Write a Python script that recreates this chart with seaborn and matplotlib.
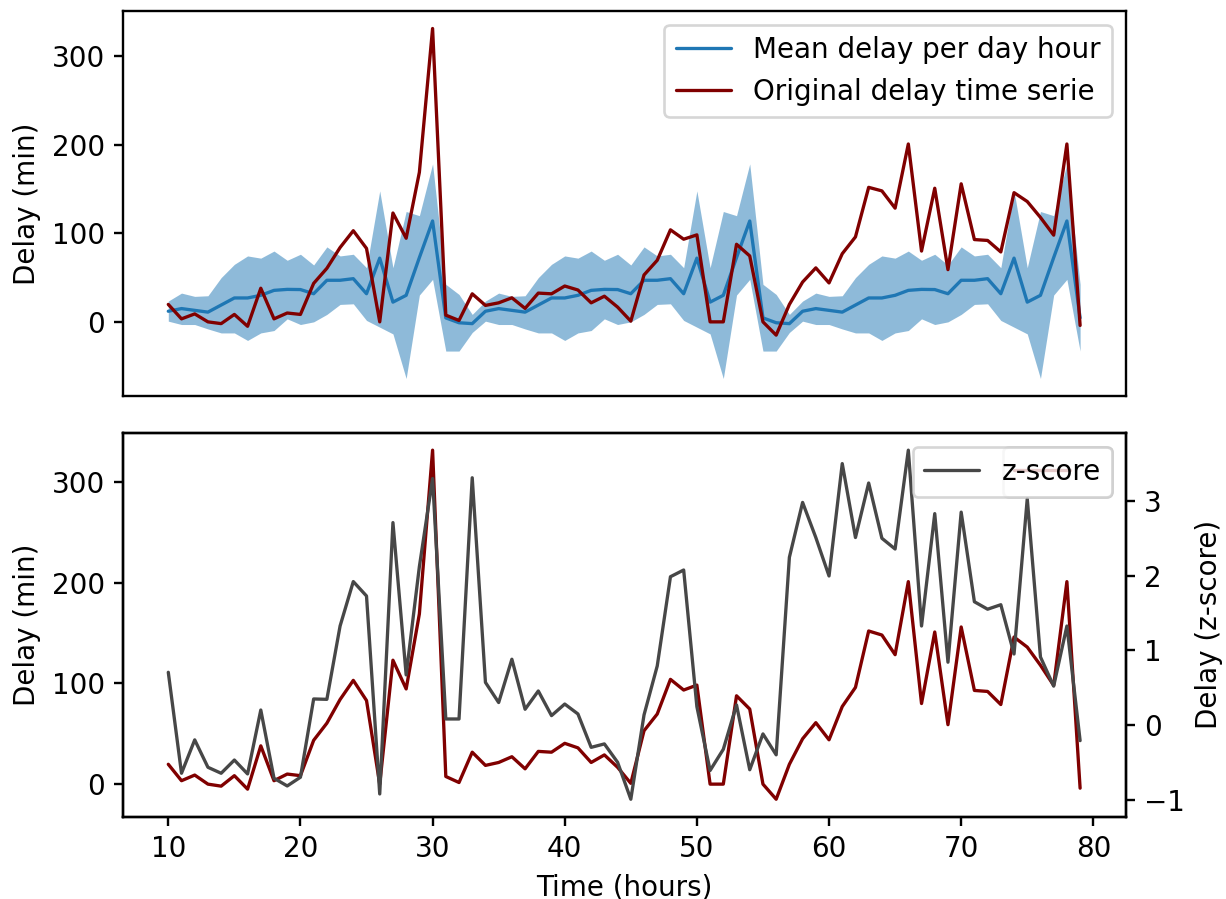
import numpy as np
import pandas as pd
import seaborn as sns
import matplotlib
matplotlib.use("Agg")
import matplotlib.pyplot as plt

hours = list(range(10, 80))

mean_delay = [12, 15, 13, 11, 19, 27, 27, 30, 35.6, 36.7, 36.5, 31.8, 47, 47, 48.8, 31.8, 72, 22.3, 30, 72.6, 114, 4.5, -1, -2,
              12, 15, 13, 11, 19, 27, 27, 30, 35.6, 36.7, 36.5, 31.8, 47, 47, 48.8, 31.8, 72, 22.3, 30, 72.6, 114, 4.5, -1, -2,
              12, 15, 13, 11, 19, 27, 27, 30, 35.6, 36.7, 36.5, 31.8, 47, 47, 48.8, 31.8, 72, 22.3, 30, 72.6, 114, 4.5]

band_upper = [23.5, 32.5, 28.8, 29.5, 50, 65, 74.5, 72, 80, 69.6, 76.4, 64.3, 84.7, 74.5, 76.4, 61.2, 148, 61.2, 124.7, 120, 178.5, 42.4, 31, 8.4,
              23.5, 32.5, 28.8, 29.5, 50, 65, 74.5, 72, 80, 69.6, 76.4, 64.3, 84.7, 74.5, 76.4, 61.2, 148, 61.2, 124.7, 120, 178.5, 42.4, 31, 8.4,
              23.5, 32.5, 28.8, 29.5, 50, 65, 74.5, 72, 80, 69.6, 76.4, 64.3, 84.7, 74.5, 76.4, 61.2, 148, 61.2, 124.7, 120, 178.5, 42.4]

band_lower = [0.8, -3, -3, -8, -12.5, -12.5, -21, -12.5, -9.8, 3.4, -3, 0, 8.4, 19.7, 20.4, 1.6, -6, -13.6, -64, 30.3, 48, -33, -33, -12,
              0.8, -3, -3, -8, -12.5, -12.5, -21, -12.5, -9.8, 3.4, -3, 0, 8.4, 19.7, 20.4, 1.6, -6, -13.6, -64, 30.3, 48, -33, -33, -12,
              0.8, -3, -3, -8, -12.5, -12.5, -21, -12.5, -9.8, 3.4, -3, 0, 8.4, 19.7, 20.4, 1.6, -6, -13.6, -64, 30.3, 48, -33]

original_delay = [19.7, 3.4, 9, 0, -2, 8.4, -5, 38, 3.4, 10,
                  8.4, 43.5, 60.5, 84, 103, 83, 0, 123, 94.5, 169,
                  331.5, 7.6, 1.6, 31.7, 18.6, 21.5, 27.2, 15.2, 32.5, 31.7,
                  40.5, 36, 21.5, 29, 16.7, 0.8, 53, 69.6, 104, 93.4,
                  98.3, 0, 0, 87.7, 74.5, 0, -15, 19.7, 45, 61,
                  44, 77, 96, 152, 148, 128.5, 201, 80, 151, 59,
                  156, 93, 92, 79, 146, 136, 118, 98, 201, -4]

z_score = [0.705, -0.647, -0.2, -0.567, -0.647, -0.47, -0.656, 0.2, -0.714, -0.817,
           -0.7, 0.348, 0.343, 1.325, 1.92, 1.727, -0.924, 2.71, 0.67, 2.12,
           3.30, 0.08, 0.08, 3.31, 0.57, 0.30, 0.88, 0.21, 0.455, 0.125,
           0.28, 0.147, -0.3, -0.254, -0.5, -0.995, 0.134, 0.79, 1.985, 2.075,
           0.245, -0.61, -0.326, 0.268, -0.6, -0.12, -0.4, 2.245, 2.98, 2.51,
           1.995, 3.50, 2.51, 3.24, 2.50, 2.356, 3.68, 1.325, 2.83, 0.84,
           2.85, 1.65, 1.55, 1.61, 0.95, 3.03, 0.91, 0.52, 1.325, -0.21]

sns.set_style("ticks", rc={"axes.edgecolor": "black", "xtick.color": "black",
                           "ytick.color": "black", "text.color": "black",
                           "axes.labelcolor": "black"})
FS = 10.5
plt.rcParams["font.family"] = ["DejaVu Sans"]
plt.rcParams["font.size"] = FS
plt.rcParams["axes.labelsize"] = FS
plt.rcParams["xtick.labelsize"] = FS
plt.rcParams["ytick.labelsize"] = FS
plt.rcParams["legend.fontsize"] = FS
plt.rcParams["axes.linewidth"] = 0.9
plt.rcParams["xtick.major.width"] = 0.9
plt.rcParams["ytick.major.width"] = 0.9
plt.rcParams["xtick.major.size"] = 3.3
plt.rcParams["ytick.major.size"] = 3.3

df = pd.DataFrame({"hour": hours, "mean": mean_delay, "upper": band_upper,
                   "lower": band_lower, "orig": original_delay, "z": z_score})

BLUE = "#1f77b4"
RED = "#800000"
GRAY = "#474747"
LW = 1.25

W, H = 1226, 899
fig = plt.figure(figsize=(W / 190, H / 190), dpi=190)
L = 122.7 / W
R = 1125.7 / W
ax_top = fig.add_axes([L, 1 - 396 / H, R - L, (396 - 11) / H])
ax_bot = fig.add_axes([L, 1 - 816.7 / H, R - L, (816.7 - 432.7) / H], sharex=ax_top)

# Top panel
ax_top.fill_between(df["hour"], df["lower"], df["upper"], color=BLUE, alpha=0.5, linewidth=0)
sns.lineplot(data=df, x="hour", y="mean", ax=ax_top, color=BLUE, lw=LW, label="Mean delay per day hour")
sns.lineplot(data=df, x="hour", y="orig", ax=ax_top, color=RED, lw=LW, label="Original delay time serie")
ax_top.set_ylabel("Delay (min)")
ax_top.set_xlabel("")
ax_top.set_yticks([0, 100, 200, 300])
ax_top.tick_params(axis="x", bottom=False, labelbottom=False)
ax_top.legend(loc="upper right")

# Bottom panel
sns.lineplot(data=df, x="hour", y="orig", ax=ax_bot, color=RED, lw=LW)
ax_bot.set_ylabel("Delay (min)")
ax_bot.set_xlabel("Time (hours)")
ax_bot.set_yticks([0, 100, 200, 300])
ax_bot.set_xticks([10, 20, 30, 40, 50, 60, 70, 80])
red_handle = ax_bot.get_lines()[0]
ax_bot.legend([red_handle], [" "], loc="upper right")

ax_z = ax_bot.twinx()
sns.lineplot(data=df, x="hour", y="z", ax=ax_z, color=GRAY, lw=LW, label="z-score")
ax_z.set_ylabel("Delay (z-score)")
ax_z.set_yticks([-1, 0, 1, 2, 3])
ax_z.legend(loc="upper right")

fig.savefig("out.png", dpi=190)
